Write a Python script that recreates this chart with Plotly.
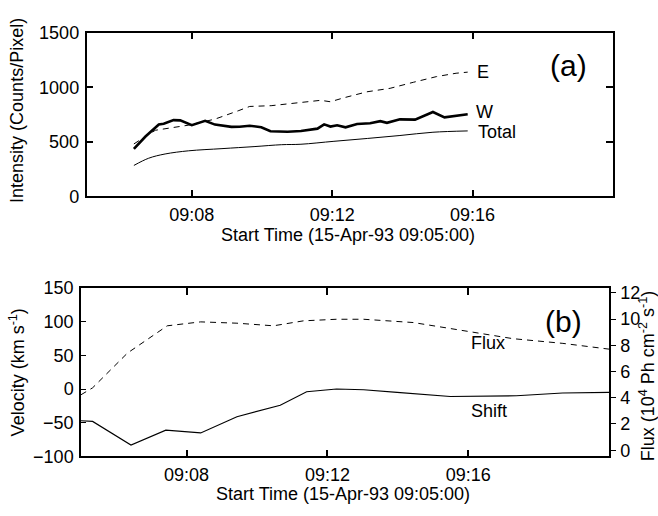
import numpy as np
import pandas as pd
import plotly.graph_objects as go

# ---------------- data (minutes after 09:00 on 15-Apr-93) ----------------
W_min = [6.35, 6.68, 7.06, 7.2, 7.48, 7.67, 8.0, 8.38, 8.66, 9.13, 9.36, 9.65, 9.98, 10.24,
         10.73, 11.11, 11.58, 11.77, 11.95, 12.14, 12.38, 12.71, 13.08, 13.37, 13.56, 13.93,
         14.36, 14.87, 15.2, 15.53, 15.86]
W_val = [436, 549, 659, 666, 699, 697, 653, 693, 658, 637, 638, 647, 634, 597,
         592, 599, 621, 660, 640, 652, 633, 663, 670, 689, 674, 706,
         703, 773, 724, 740, 752]

E_min = [6.35, 6.96, 7.91, 8.66, 9.32, 9.65, 10.26, 11.11, 11.67, 11.95, 12.33, 12.99,
         13.65, 14.31, 14.97, 15.53, 15.86]
E_val = [481, 606, 653, 708, 784, 824, 831, 864, 880, 867, 903, 958,
         990, 1045, 1097, 1128, 1138]

Total_min = [6.35, 6.77, 7.24, 7.91, 8.86, 9.80, 10.56, 11.11, 12.05, 13.0, 13.93, 14.87, 15.86]
Total_val = [284, 350, 389, 418, 438, 457, 474, 478, 505, 531, 558, 588, 600]

Shift_min = [5.0, 5.33, 6.42, 7.41, 8.40, 9.43, 10.66, 11.41, 12.26, 13.03, 13.98,
             15.49, 17.37, 18.68, 20.0]
Shift_val = [-47, -48, -83, -61, -65, -41, -24, -4, 0, -1, -5,
             -11, -10, -6, -5]

Flux_min = [5.0, 5.33, 6.32, 7.45, 8.40, 9.43, 10.47, 11.32, 12.26, 13.03, 14.44,
            15.86, 17.27, 18.69, 20.0]
Flux_val = [4.23, 4.76, 7.41, 9.49, 9.79, 9.69, 9.49, 9.87, 9.99, 9.99, 9.74,
            9.13, 8.51, 8.15, 7.71]

tick_min = [8, 12, 16]
tick_text = ["09:08", "09:12", "09:16"]
range_min = [5, 20]

BASE = pd.Timestamp("1993-04-15 09:00:00")


def to_time(mins):
    return [BASE + pd.Timedelta(minutes=float(m)) for m in mins]


FONT = "Liberation Sans, Arial, Helvetica, sans-serif"
W, H = 658, 516


def px(x):
    return x / W


def py(y):
    return 1 - y / H


fig = go.Figure()

# panel (a)
fig.add_trace(go.Scatter(x=to_time(E_min), y=E_val, mode="lines",
                         line=dict(color="black", width=1, dash="6px,5px"),
                         xaxis="x", yaxis="y", showlegend=False))
fig.add_trace(go.Scatter(x=to_time(W_min), y=W_val, mode="lines",
                         line=dict(color="black", width=2.6),
                         xaxis="x", yaxis="y", showlegend=False))
fig.add_trace(go.Scatter(x=to_time(Total_min), y=Total_val, mode="lines",
                         line=dict(color="black", width=1, shape="spline"),
                         xaxis="x", yaxis="y", showlegend=False))

# panel (b)
fig.add_trace(go.Scatter(x=to_time(Shift_min), y=Shift_val, mode="lines",
                         line=dict(color="black", width=1.1),
                         xaxis="x2", yaxis="y2", showlegend=False))
fig.add_trace(go.Scatter(x=to_time(Flux_min), y=Flux_val, mode="lines",
                         line=dict(color="black", width=1, dash="6px,5px"),
                         xaxis="x2", yaxis="y3", showlegend=False))

tickfont = dict(family=FONT, size=18, color="black")
xr = [str(t) for t in to_time(range_min)]
xt = to_time(tick_min)

common_x = dict(type="date", range=xr, tickvals=xt, ticktext=tick_text,
                showline=True, linecolor="black", linewidth=1.5, mirror="ticks",
                ticks="inside", ticklen=7, tickwidth=1.5, tickcolor="black",
                showgrid=False, zeroline=False, tickfont=tickfont,
                ticklabelstandoff=1)

fig.update_layout(
    width=W, height=H,
    margin=dict(l=0, r=0, t=0, b=0),
    paper_bgcolor="white", plot_bgcolor="white",
    font=dict(family=FONT, size=18, color="black"),
    xaxis=dict(domain=[px(86.5), px(613)], anchor="y", **common_x),
    yaxis=dict(domain=[py(194), py(23.5)], anchor="x", range=[0, 1500],
               tickvals=[0, 500, 1000, 1500], showline=True, linecolor="black",
               linewidth=1.5, mirror="ticks", ticks="inside", ticklen=7,
               tickwidth=1.5, tickcolor="black", showgrid=False, zeroline=False,
               tickfont=tickfont, ticklabelstandoff=2),
    xaxis2=dict(domain=[px(81), px(609)], anchor="y2", **common_x),
    yaxis2=dict(domain=[py(464.5), py(289)], anchor="x2", range=[-100, 150],
                tickvals=[-100, -50, 0, 50, 100, 150], showline=True,
                linecolor="black", linewidth=1.5, mirror=True, ticks="inside",
                ticklen=5, tickwidth=1.2, tickcolor="black", showgrid=False,
                zeroline=False, tickfont=tickfont, ticklabelstandoff=2),
    yaxis3=dict(domain=[py(464.5), py(289)], anchor="x2", overlaying="y2",
                side="right", range=[-0.48, 12.39], tickvals=[0, 2, 4, 6, 8, 10, 12],
                showline=True, linecolor="black", linewidth=1.5, ticks="outside",
                ticklen=5, tickwidth=1.2, tickcolor="black", showgrid=False,
                zeroline=False, tickfont=tickfont, ticklabelstandoff=1),
)

ann = []


def add_text(text, x, y, size=18, angle=0):
    ann.append(dict(text=text, x=px(x), y=py(y), xref="paper", yref="paper",
                    xanchor="center", yanchor="middle", showarrow=False,
                    textangle=angle, font=dict(family=FONT, size=size, color="black")))


add_text("Intensity (Counts/Pixel)", 17, 105, angle=-90)
add_text("Start Time (15-Apr-93 09:05:00)", 348, 234)
add_text("E", 483, 65)
add_text("W", 484, 106)
add_text("Total", 497, 127)
add_text("(a)", 568, 58, size=30)

add_text("Velocity (km s<sup>-1</sup>)", 17, 377, angle=-90)
add_text("Flux (10<sup>4</sup> Ph cm<sup>-2</sup> s<sup>-1</sup>)", 647, 381, angle=-90)
add_text("Start Time (15-Apr-93 09:05:00)", 343, 503)
add_text("Flux", 488, 346)
add_text("Shift", 489, 417)
add_text("(b)", 563, 324, size=30)

fig.update_layout(annotations=ann)

fig.write_html("out.html")
